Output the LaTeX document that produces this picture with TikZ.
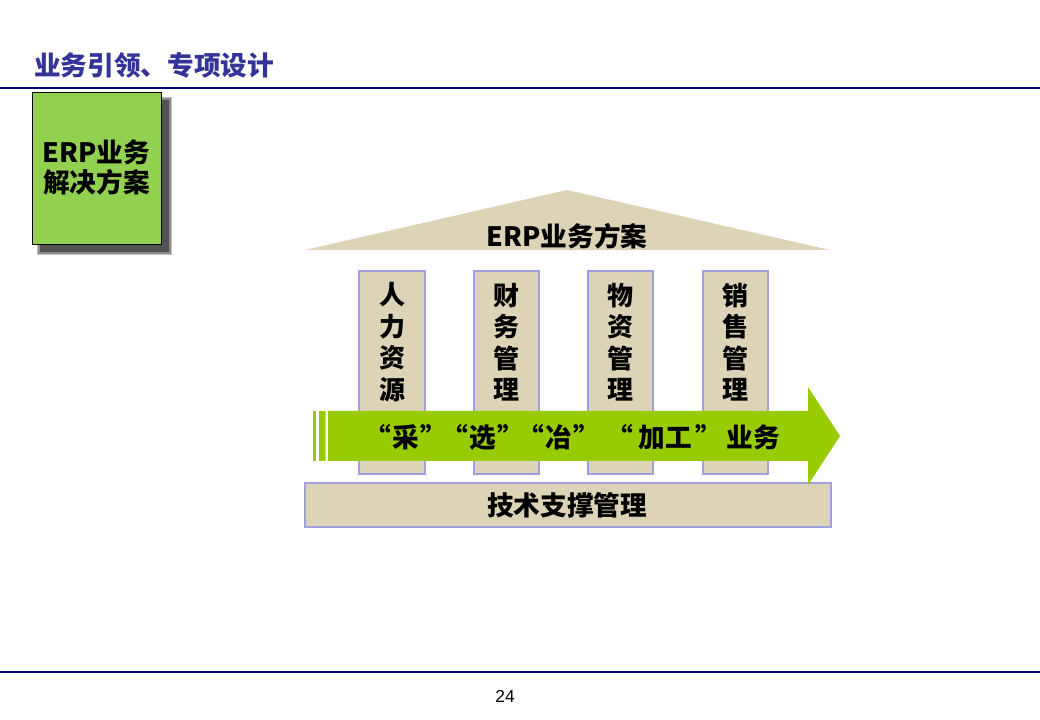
\documentclass[tikz,border=0pt]{standalone}
\usepackage{fontspec}
\newfontfamily\cjk{Noto Sans CJK SC}
\setmainfont{Liberation Sans}
\definecolor{titleblue}{HTML}{333399}
\definecolor{navy}{HTML}{000080}
\definecolor{tan}{HTML}{DDD3B7}
\definecolor{lav}{HTML}{A0A0E0}
\definecolor{boxgreen}{HTML}{92D050}
\definecolor{arrowgreen}{HTML}{99CC00}
\begin{document}
\begin{tikzpicture}[x=0.75pt,y=-0.75pt,
  cjkbold/.style={font=\cjk\bfseries\fontsize{20pt}{24pt}\selectfont, inner sep=0pt},
  pillar/.style={fill=tan, draw=lav, line width=0.8pt},
  pillartext/.style={cjkbold, align=center, font=\cjk\bfseries\fontsize{19.5pt}{23.6pt}\selectfont}]
\useasboundingbox[fill=white] (0,0) rectangle (1040,720);
% title
\node[cjkbold, text=titleblue, anchor=west] (title) at (34,65) {业务引领、专项设计};
\draw[navy, line width=1.6pt] (0,88) -- (1040,88);
% green box with shadow
\fill[black!25] (37,97) rectangle (172,255);
\fill[black!45] (38,98) rectangle (171,254);
\fill[black!68] (40,100) rectangle (169,252);
\node[fill=boxgreen, draw=black, line width=1.1pt, minimum width=129*0.75pt, minimum height=152*0.75pt,
  anchor=north west, inner sep=0pt] (box) at (32,92) {};
\node[cjkbold, align=center, font=\cjk\bfseries\fontsize{20pt}{22.5pt}\selectfont] (boxtext) at (96.5,167) {ERP业务\\解决方案};
% roof
\fill[tan] (305,250) -- (567,190) -- (830,250) -- cycle;
\coordinate (roofc) at (567,236);
\node[cjkbold] (rooftext) at (roofc) {ERP业务方案};
% pillars
\draw[pillar] (359,271) rectangle (425,474);
\draw[pillar] (474,271) rectangle (539,474);
\draw[pillar] (588,271) rectangle (653,474);
\draw[pillar] (703,271) rectangle (768,474);
\node[pillartext] (p1) at (392,342) {人\\力\\资\\源};
\node[pillartext] (p2) at (506.5,342) {财\\务\\管\\理};
\node[pillartext] (p3) at (620.5,342) {物\\资\\管\\理};
\node[pillartext] (p4) at (735.5,342) {销\\售\\管\\理};
% base bar
\draw[pillar] (305,483) rectangle (831,527);
\node[cjkbold] (basetext) at (567,505) {技术支撑管理};
% arrow
\fill[arrowgreen] (313,411) rectangle (316,461);
\fill[arrowgreen] (319,411) rectangle (325,461);
\fill[arrowgreen!60] (325,411) rectangle (326,461);
\fill[arrowgreen] (328,411) -- (808,411) -- (808,387) -- (840,436) -- (808,485) -- (808,461) -- (328,461) -- cycle;
\node[cjkbold] (a1) at (406,437) {“\kern1pt 采\kern1pt ”};
\node[cjkbold] (a2) at (483,437) {“\kern1pt 选\kern1pt ”};
\node[cjkbold] (a3) at (559,437) {“\kern1pt 冶\kern1pt ”};
\node[cjkbold] (a4) at (693,437) {“\kern4pt 加工\kern3pt ”\kern3pt 业务};
% footer
\draw[navy, line width=1.2pt] (0,672) -- (1040,672);
\node[font=\fontsize{13pt}{15pt}\selectfont, inner sep=0pt] (page) at (505,696) {24};
\end{tikzpicture}
\end{document}
